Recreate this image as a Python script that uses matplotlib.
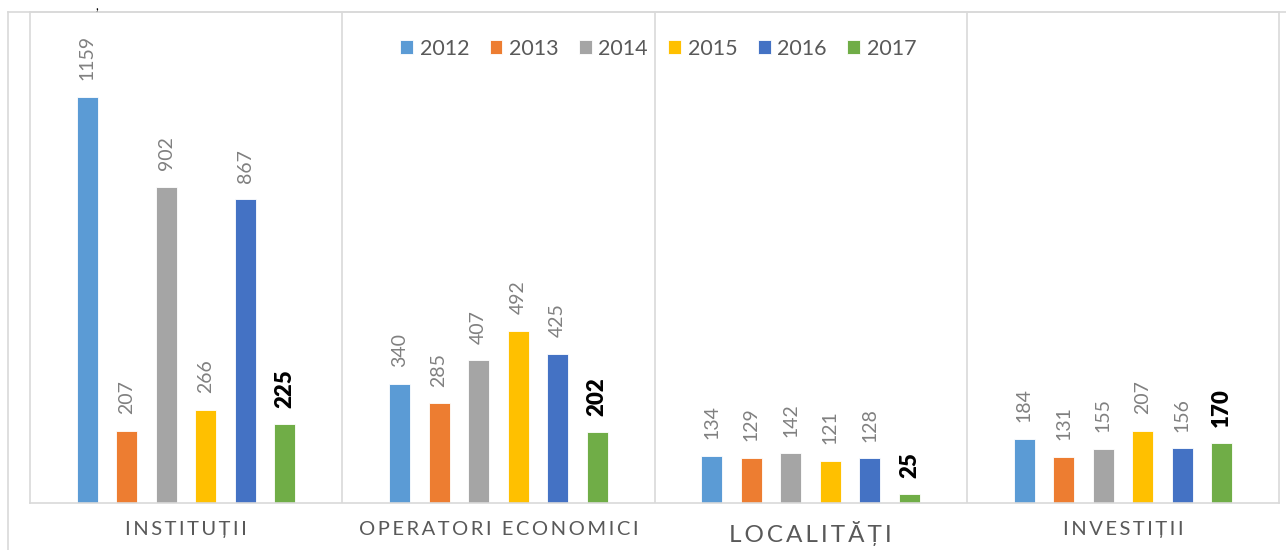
import matplotlib.pyplot as plt
from matplotlib.lines import Line2D
import numpy as np

# data
categories = ["INSTITUȚII", "OPERATORI ECONOMICI", "LOCALITĂȚI", "INVESTIȚII"]
years = ["2012", "2013", "2014", "2015", "2016", "2017"]
values_2012 = [1159, 340, 134, 184]
values_2013 = [207, 285, 129, 131]
values_2014 = [902, 407, 142, 155]
values_2015 = [266, 492, 121, 207]
values_2016 = [867, 425, 128, 156]
values_2017 = [225, 202, 25, 170]

colors = ["#5B9BD5", "#ED7D31", "#A5A5A5", "#FFC000", "#4472C4", "#70AD47"]
GRID = "#D9D9D9"

plt.rcParams["font.family"] = ["Lato", "DejaVu Sans"]


def spaced(label):
    """Spread the letters the way the original axis labels are tracked."""
    words = label.split(" ")
    return "\u2009 \u2009".join("\u2009".join(w) for w in words)


def main():
    series = [values_2012, values_2013, values_2014,
              values_2015, values_2016, values_2017]

    fig = plt.figure(figsize=(12.86, 5.5), dpi=100)
    W, H = 1286, 550
    left, right, top, bottom = 30, 1279, 12, 503
    ax = fig.add_axes([left / W, 1 - bottom / H, (right - left) / W, (bottom - top) / H])

    x = np.arange(len(categories))
    step = 0.1266
    width = 0.067
    for i, (year, vals) in enumerate(zip(years, series)):
        pos = x + (i - 2.5) * step
        bars = ax.bar(pos, vals, width, color=colors[i], label=year,
                      edgecolor="white", linewidth=0.6)
        for b, v in zip(bars, vals):
            if i == 5:
                ax.annotate(str(v), (b.get_x() + b.get_width() / 2, v),
                            xytext=(0, 12), textcoords="offset points",
                            rotation=90, ha="center", va="bottom",
                            fontsize=16, fontweight="heavy", color="black")
            else:
                ax.annotate(str(v), (b.get_x() + b.get_width() / 2, v),
                            xytext=(0, 12), textcoords="offset points",
                            rotation=90, ha="center", va="bottom",
                            fontsize=14, color="#808080")

    ax.set_xlim(-0.5, 3.5)
    ax.set_ylim(0, 1402)
    for sep in [0.5, 1.5, 2.5]:
        ax.axvline(sep, color=GRID, linewidth=1.2, zorder=0)
    for s in ax.spines.values():
        s.set_color(GRID)
        s.set_linewidth(1.2)

    ax.set_yticks([])
    ax.set_xticks(x)
    ax.set_xticklabels([spaced(c) for c in categories], color="#595959")
    ax.tick_params(axis="x", length=0, pad=13, labelsize=14.5)
    ax.get_xticklabels()[2].set_fontsize(17.5)

    ax.legend(loc="upper center", bbox_to_anchor=(0.503, 0.985), ncol=6,
              frameon=False, fontsize=15.5, handlelength=0.6, handleheight=0.6,
              handletextpad=0.3, columnspacing=0.95, labelcolor="#595959")

    # outer chart border (left and top edge only visible in the crop)
    bx, by = 8 / W, 1 - top / H
    fig.add_artist(Line2D([bx, bx], [0, by], color=GRID, linewidth=1.2))
    fig.add_artist(Line2D([bx, 1], [by, by], color=GRID, linewidth=1.2))
    fig.text(97 / W, 1 - 0.5 / H, ",", fontsize=9, color="black",
             ha="center", va="top")

    fig.savefig("out.png", dpi=100)
    plt.close(fig)


if __name__ == "__main__":
    main()
